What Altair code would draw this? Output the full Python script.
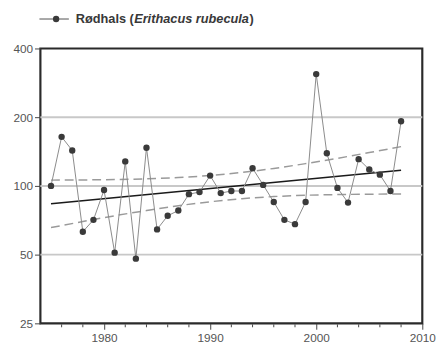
import altair as alt
import pandas as pd

# --- data ---
years = list(range(1975, 2009))
index_values = [100, 164, 143, 63, 71, 96, 51, 128, 48, 147,
                64.5, 74, 78, 92, 94, 111, 93, 95, 95, 119.5,
                101, 85, 71, 68, 85, 309, 139, 98, 84.5, 131,
                118, 112, 95, 192]

trend_years = [1975, 2008]
trend_values = [83.5, 117]

band_years = [1975, 1978, 1981, 1984, 1987, 1990, 1993, 1996, 1999, 2002, 2005, 2008]
band_upper = [106.0, 106.2, 106.6, 107.4, 108.8, 111.1, 114.6, 119.3, 125.2, 132.1, 140.0, 148.6]
band_lower = [65.7, 69.8, 74.0, 78.0, 81.9, 85.2, 87.9, 89.8, 91.0, 91.6, 92.0, 92.1]

y_ticks = [25, 50, 100, 200, 400]
grid_values = [50, 100, 200]
x_major = [1980, 1990, 2000, 2010]
x_minor = [1976, 1978, 1982, 1984, 1986, 1988, 1992, 1994, 1996, 1998, 2002, 2004, 2006, 2008]

legend_parts = ["Rødhals (", "Erithacus rubecula", ")"]

W, H = 389, 280
FONT = "Liberation Sans"

series = pd.DataFrame({"year": years, "value": index_values})
trend = pd.DataFrame({"year": trend_years, "value": trend_values})
band = pd.DataFrame(
    {"year": band_years * 2,
     "value": band_upper + band_lower,
     "which": ["upper"] * len(band_years) + ["lower"] * len(band_years)}
)
grid = pd.DataFrame({"value": grid_values})
minor = pd.DataFrame({"year": x_minor})

xscale = alt.Scale(domain=[1974, 2010], nice=False, zero=False)
yscale = alt.Scale(type="log", domain=[25, 400], nice=False)

x_axis = alt.Axis(values=x_major, format="d", title=None, grid=False, domain=False,
                  tickSize=6, tickColor="#444", labelColor="#555", labelFontSize=12,
                  labelFont=FONT, labelPadding=3, labelFlush=False)
y_axis = alt.Axis(values=y_ticks, format="d", title=None, grid=False, domain=False,
                  tickSize=6, tickColor="#444", labelColor="#555", labelFontSize=12,
                  labelFont=FONT, labelPadding=2)

gridlines = alt.Chart(grid).mark_rule(color="#c8c8c8", strokeWidth=2).encode(
    y=alt.Y("value:Q", scale=yscale, axis=y_axis)
)

minor_ticks = alt.Chart(minor).mark_rule(color="#444", strokeWidth=1).encode(
    x=alt.X("year:Q", scale=xscale, axis=x_axis),
    y=alt.value(H + 1),
    y2=alt.value(H + 4),
)

bands = alt.Chart(band).mark_line(color="#9a9a9a", strokeWidth=1.5, strokeDash=[9, 5],
                                  interpolate="monotone").encode(
    x=alt.X("year:Q", scale=xscale, axis=x_axis),
    y=alt.Y("value:Q", scale=yscale, axis=y_axis),
    detail="which:N",
)

trend_line = alt.Chart(trend).mark_line(color="#1a1a1a", strokeWidth=1.5).encode(
    x=alt.X("year:Q", scale=xscale, axis=x_axis),
    y=alt.Y("value:Q", scale=yscale, axis=y_axis),
)

data_line = alt.Chart(series).mark_line(color="#8a8a8a", strokeWidth=1).encode(
    x=alt.X("year:Q", scale=xscale, axis=x_axis),
    y=alt.Y("value:Q", scale=yscale, axis=y_axis),
)

data_points = alt.Chart(series).mark_circle(size=42, color="#3a3a3a", opacity=1).encode(
    x=alt.X("year:Q", scale=xscale, axis=x_axis),
    y=alt.Y("value:Q", scale=yscale, axis=y_axis),
)

one = alt.Data(values=[{"a": 1}])
LY = -30
leg_line = alt.Chart(one).mark_rule(color="#8a8a8a", strokeWidth=1.5).encode(
    x=alt.value(-1), x2=alt.value(29), y=alt.value(LY)
)
leg_dot = alt.Chart(one).mark_circle(size=42, color="#3a3a3a", opacity=1).encode(
    x=alt.value(16), y=alt.value(LY)
)
FS = 13
leg_t1 = alt.Chart(one).mark_text(text=legend_parts[0], font=FONT, fontSize=FS, fontWeight="bold",
                                  color="#383838", align="left", baseline="middle").encode(
    x=alt.value(36), y=alt.value(LY)
)
leg_t2 = alt.Chart(one).mark_text(text=legend_parts[1], font=FONT, fontSize=FS, fontWeight="bold",
                                  fontStyle="italic", color="#383838", align="left",
                                  baseline="middle").encode(
    x=alt.value(95.5), y=alt.value(LY)
)
leg_t3 = alt.Chart(one).mark_text(text=legend_parts[2], font=FONT, fontSize=FS, fontWeight="bold",
                                  color="#383838", align="left", baseline="middle").encode(
    x=alt.value(213), y=alt.value(LY)
)

chart = alt.layer(
    gridlines, minor_ticks, bands, trend_line, data_line, data_points,
    leg_line, leg_dot, leg_t1, leg_t2, leg_t3,
).properties(
    width=W, height=H,
    autosize=alt.AutoSizeParams(type="none"),
    padding={"left": 33, "top": 38, "right": 16, "bottom": 28},
    background="white",
).configure_view(
    stroke="#2a2a2a", strokeWidth=2.2
)

chart.save("out.html", embed_options={"renderer": "svg", "actions": False})
